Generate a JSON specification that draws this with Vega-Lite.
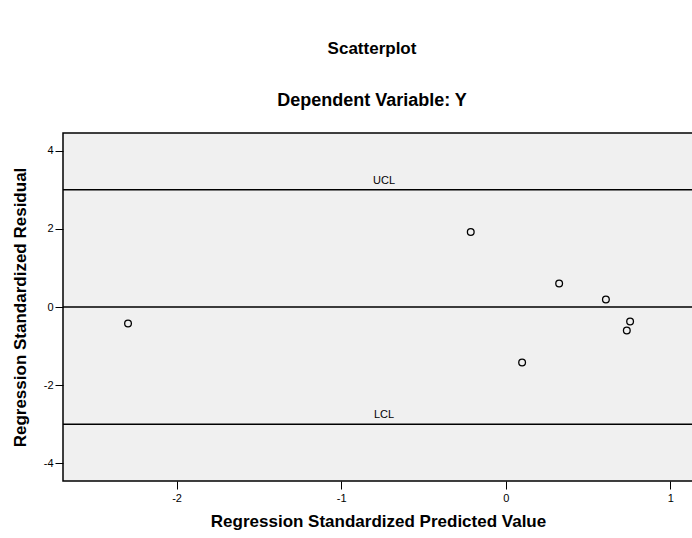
{
  "$schema": "https://vega.github.io/schema/vega-lite/v6.json",
  "autosize": "none",
  "width": 642,
  "height": 348,
  "padding": {"left": 63, "top": 133, "right": 0, "bottom": 57},
  "background": "white",
  "title": {
    "text": "Scatterplot",
    "subtitle": "Dependent Variable: Y",
    "anchor": "middle",
    "frame": "group",
    "dx": -12,
    "font": "Liberation Sans, Arial",
    "fontSize": 17,
    "fontWeight": "bold",
    "color": "#000000",
    "subtitleFont": "Liberation Sans, Arial",
    "subtitleFontSize": 18,
    "subtitleFontWeight": "bold",
    "subtitleColor": "#000000",
    "subtitlePadding": 34,
    "offset": 22
  },
  "config": {
    "view": {"fill": "#f0f0f0", "stroke": "#000000", "strokeWidth": 1.5},
    "axis": {
      "domain": false,
      "grid": false,
      "ticks": true,
      "tickColor": "#000000",
      "tickSize": 8,
      "labelColor": "#000000",
      "labelFont": "Liberation Sans, Arial",
      "labelFontSize": 11,
      "labelExpr": "toString(datum.value)",
      "titleFont": "Liberation Sans, Arial",
      "titleFontSize": 17,
      "titleFontWeight": "bold",
      "titleColor": "#000000"
    }
  },
  "datasets": {
    "points": [
      {"pred": -2.295, "resid": -0.42},
      {"pred": -0.213, "resid": 1.92},
      {"pred": 0.099, "resid": -1.42},
      {"pred": 0.324, "resid": 0.6},
      {"pred": 0.608, "resid": 0.19},
      {"pred": 0.755, "resid": -0.37},
      {"pred": 0.735, "resid": -0.6}
    ],
    "lines": [
      {"level": 3, "label": "UCL"},
      {"level": 0, "label": ""},
      {"level": -3, "label": "LCL"}
    ]
  },
  "layer": [
    {
      "data": {"name": "lines"},
      "mark": {"type": "rule", "color": "#000000", "strokeWidth": 1.5},
      "encoding": {
        "y": {"field": "level", "type": "quantitative", "scale": {"domain": [-4.45, 4.45]}}
      }
    },
    {
      "data": {"name": "lines"},
      "mark": {"type": "text", "color": "#000000", "dy": -9, "fontSize": 11, "font": "Liberation Sans, Arial", "align": "center"},
      "encoding": {
        "y": {"field": "level", "type": "quantitative"},
        "text": {"field": "label", "type": "nominal"}
      }
    },
    {
      "data": {"name": "points"},
      "mark": {"type": "point", "shape": "circle", "filled": false, "color": "#000000", "size": 45, "strokeWidth": 1.3, "opacity": 1},
      "encoding": {
        "x": {
          "field": "pred",
          "type": "quantitative",
          "scale": {"domain": [-2.69, 1.21], "nice": false, "zero": false},
          "axis": {"values": [-2, -1, 0, 1], "title": "Regression Standardized Predicted Value", "labelPadding": 3, "titlePadding": 10, "titleX": 315}
        },
        "y": {
          "field": "resid",
          "type": "quantitative",
          "scale": {"domain": [-4.45, 4.45], "nice": false, "zero": false},
          "axis": {"values": [-4, -2, 0, 2, 4], "title": "Regression Standardized Residual", "labelPadding": 2, "titlePadding": 14}
        }
      }
    }
  ]
}
